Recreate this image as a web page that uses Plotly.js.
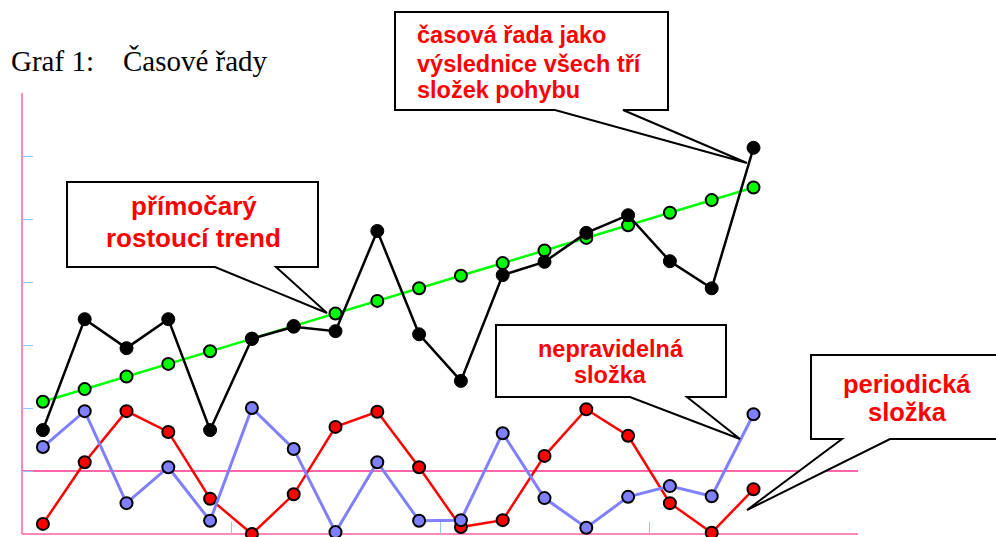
<!DOCTYPE html>
<html>
<head>
<meta charset="utf-8">
<script src="https://cdn.plot.ly/plotly-3.0.1.min.js"></script>
<style>html,body{margin:0;padding:0;background:#fff;}#chart{width:996px;height:537px;}</style>
</head>
<body>
<div id="chart"></div>
<script>
// ---- data ----
const periods   = [1,2,3,4,5,6,7,8,9,10,11,12,13,14,15,16,17,18];
const trend     = [1.10,1.30,1.50,1.70,1.90,2.10,2.30,2.50,2.70,2.90,3.10,3.30,3.50,3.70,3.90,4.10,4.30,4.50];
const periodic  = [-0.84,0.14,0.95,0.62,-0.44,-1.00,-0.37,0.70,0.94,0.06,-0.89,-0.78,0.24,0.98,0.56,-0.51,-0.98,-0.29];
const irregular = [0.38,0.95,-0.51,0.06,-0.79,1.00,0.35,-0.97,0.14,-0.79,-0.78,0.60,-0.43,-0.90,-0.41,-0.24,-0.40,0.90];
const series    = [0.65,2.41,1.95,2.41,0.65,2.10,2.29,2.22,3.81,2.17,1.43,3.11,3.32,3.78,4.06,3.33,2.90,5.13];
const xTicks    = [0.5,5.5,10.5,15.5,20.5];
const yTicks    = [-1,0,1,2,3,4,5,6];

const titleText = "Graf 1:\u00A0\u00A0\u00A0\u00A0Časové řady";
const linesTrend  = ["přímočarý", "rostoucí trend"];
const linesSeries = ["časová řada jako", "výslednice všech tří", "složek pohybu"];
const linesIrreg  = ["nepravidelná", "složka"];
const linesPeriod = ["periodická", "složka"];

// ---- layout geometry (pixels) ----
const W = 996, H = 537;
const M = {l: 22, r: 138, t: 93, b: 3};
const PW = W - M.l - M.r, PH = H - M.t - M.b;
function px(x){ return (x - M.l) / PW; }
function py(y){ return (H - M.b - y) / PH; }

function callout(L, T, R, B, w1, w2, tx, ty){
  const pts = [[L,T],[R,T],[R,B],[w2,B],[tx,ty],[w1,B],[L,B]];
  let d = pts.map((p,i)=> (i?'L':'M') + px(p[0]).toFixed(5) + ',' + py(p[1]).toFixed(5)).join(' ') + ' Z';
  return {type:'path', xref:'paper', yref:'paper', path:d, fillcolor:'#ffffff',
          line:{color:'#000000', width:2}, layer:'above'};
}

function textLines(lines, x, baselines, size, anchor){
  return lines.map((t,i)=>({
    xref:'paper', yref:'paper', x:px(x), y:py(baselines[i] - 0.35*size),
    xanchor:anchor, yanchor:'middle', showarrow:false,
    text:'<b>'+t+'</b>',
    font:{family:'Liberation Sans, Arial, sans-serif', size:size, color:'#ff0000'}
  }));
}

function mk(color, y, lw, msize, mline){
  return {x: periods, y: y, type:'scatter', mode:'lines+markers',
    line:{color:color, width:lw},
    marker:{color:color, size:msize, line:{color:'#000000', width:mline}},
    hoverinfo:'skip', showlegend:false, cliponaxis:false};
}

const traces = [
  mk('#ff0000', periodic, 2.5, 12, 2),
  mk('#8080ff', irregular, 3, 12, 2),
  mk('#00ff00', trend, 2.5, 12, 2),
  mk('#000000', series, 2.5, 13, 1)
];

const axisPink = '#ff5fa5';

const layout = {
  width: W, height: H,
  margin: M,
  paper_bgcolor:'#ffffff', plot_bgcolor:'#ffffff',
  showlegend:false,
  xaxis:{range:[0.5,20.5], tickmode:'array', tickvals:xTicks, showticklabels:false,
    ticks:'inside', ticklen:12, tickcolor:'#8cc8ff', tickwidth:1,
    showline:false, showgrid:false, zeroline:false, fixedrange:true},
  yaxis:{range:[-1,6], tickmode:'array', tickvals:yTicks, showticklabels:false,
    ticks:'inside', ticklen:11, tickcolor:'#8cc8ff', tickwidth:1,
    showline:false, showgrid:false,
    zeroline:true, zerolinecolor:'#ff66aa', zerolinewidth:1.2, fixedrange:true},
  shapes:[
    {type:'line', xref:'paper', yref:'paper', x0:0, x1:0, y0:0, y1:1, line:{color:axisPink, width:1.5}, layer:'below'},
    {type:'line', xref:'paper', yref:'paper', x0:0, x1:1, y0:0, y1:0, line:{color:axisPink, width:1.5}, layer:'below'},
    callout(67,182,318,267, 215,276, 327,313),
    callout(395,12,668,110, 555,623, 747,163),
    callout(496,325,726,397, 630,687, 740,439),
    callout(811,355,1010,439, 842,890, 747,510)
  ],
  annotations:[
    {xref:'paper', yref:'paper', x:px(9), y:py(61), xanchor:'left', yanchor:'middle',
     text:titleText, showarrow:false, font:{family:'Liberation Serif, Times New Roman, serif', size:29, color:'#000000'}}
  ].concat(
    textLines(linesTrend, 193.5, [215, 247], 26, 'center'),
    textLines(linesSeries, 415, [43, 72, 98], 23.5, 'left'),
    textLines(linesIrreg, 610.5, [357, 383], 23.5, 'center'),
    textLines(linesPeriod, 907.5, [392.5, 421], 25.5, 'center')
  )
};

Plotly.newPlot('chart', traces, layout, {displayModeBar:false, staticPlot:true});
</script>
</body>
</html>
